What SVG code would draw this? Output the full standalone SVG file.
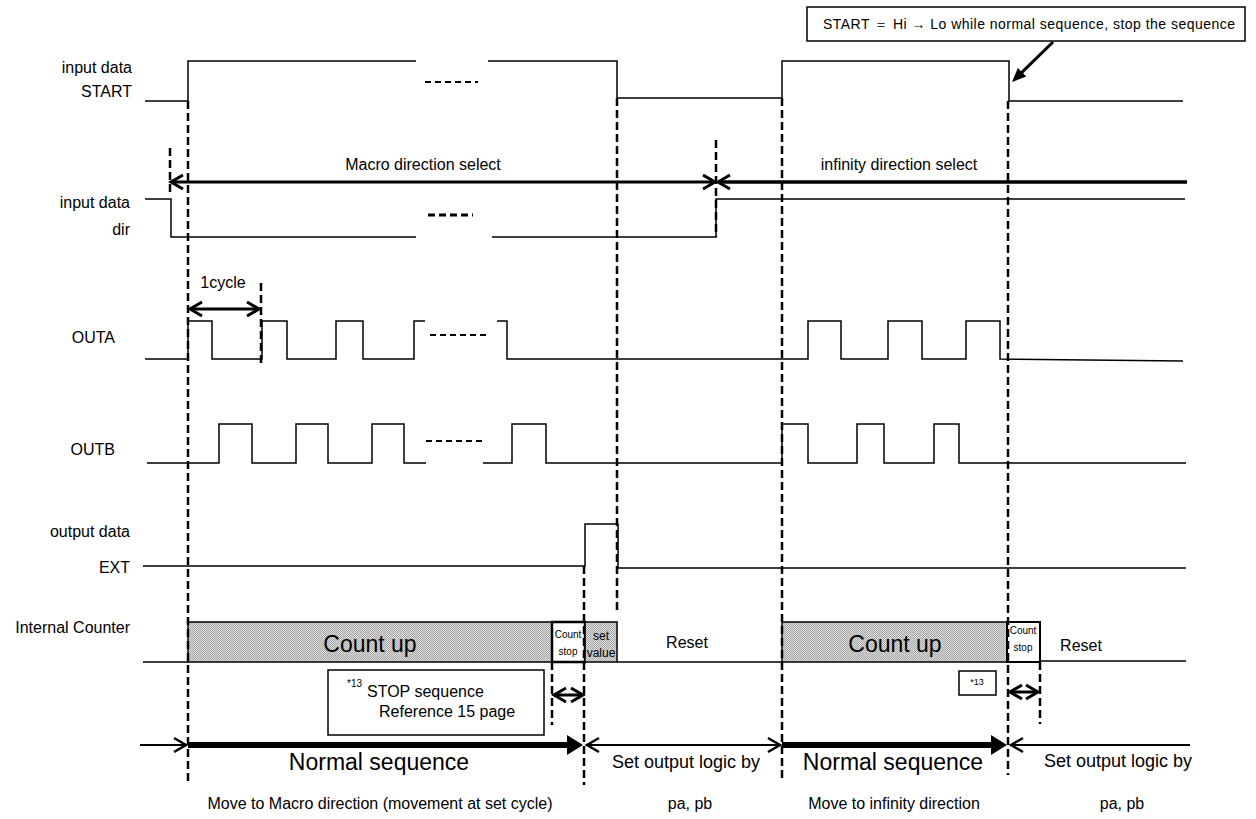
<svg xmlns="http://www.w3.org/2000/svg" width="1256" height="819" viewBox="0 0 1256 819">
<style>
text{font-family:"Liberation Sans",Arial,sans-serif;fill:#000}
.lbl{font-size:16px;text-anchor:end}
.c{text-anchor:middle}
.sig{fill:none;stroke:#000;stroke-width:1.5}
.dots{fill:none;stroke:#000;stroke-width:2;stroke-dasharray:6 4}
.dash{fill:none;stroke:#000;stroke-width:2.5;stroke-dasharray:8 4}
.arr{fill:none;stroke:#000;stroke-width:3}
.thin{fill:none;stroke:#000;stroke-width:2}
.thick{fill:none;stroke:#000;stroke-width:6}
.box{stroke:#000;stroke-width:1.5}
</style>
<defs>
<pattern id="stip" width="2" height="2" patternUnits="userSpaceOnUse">
<rect width="2" height="2" fill="#dcdcdc"/>
<rect width="1" height="1" fill="#a8a8a8"/>
<rect x="1" y="1" width="1" height="1" fill="#a8a8a8"/>
</pattern>
<marker id="open" markerUnits="userSpaceOnUse" markerWidth="30" markerHeight="30" refX="0" refY="0" orient="auto-start-reverse" overflow="visible">
<path d="M-12,-7 L0,0 L-12,7" fill="none" stroke="#000" stroke-width="3"/>
</marker>
<marker id="openS" markerUnits="userSpaceOnUse" markerWidth="30" markerHeight="30" refX="0" refY="0" orient="auto-start-reverse" overflow="visible">
<path d="M-12,-7 L0,0 L-12,7" fill="none" stroke="#000" stroke-width="2.5"/>
</marker>
<marker id="fill" markerUnits="userSpaceOnUse" markerWidth="30" markerHeight="30" refX="0" refY="0" orient="auto" overflow="visible">
<path d="M-3,-10 L13,0 L-3,10 Z" fill="#000"/>
</marker>
<marker id="fillS" markerUnits="userSpaceOnUse" markerWidth="30" markerHeight="30" refX="0" refY="0" orient="auto" overflow="visible">
<path d="M-2,-6 L12,0 L-2,6 Z" fill="#000"/>
</marker>
</defs>
<rect width="1256" height="819" fill="#fff"/>

<g id="labels">
<text class="lbl" x="132" y="73">input data</text>
<text class="lbl" x="132" y="97">START</text>
<text class="lbl" x="130" y="208">input data</text>
<text class="lbl" x="130" y="235">dir</text>
<text class="lbl" x="115" y="343">OUTA</text>
<text class="lbl" x="115" y="455">OUTB</text>
<text class="lbl" x="130" y="537">output data</text>
<text class="lbl" x="130" y="573">EXT</text>
<text class="lbl" x="130" y="633">Internal Counter</text>
</g>

<g id="sig-start">
<polyline class="sig" points="145,101 188,101 188,61 416,61"/>
<line class="dots" x1="425" y1="82" x2="478" y2="82"/>
<polyline class="sig" points="488,61 617,61 617,98 782,98 782,61 1009,61 1009,101 1183,101"/>
</g>

<g id="sig-dir">
<polyline class="sig" points="145,199 171,199 171,237 416,237"/>
<line class="dots" x1="428" y1="215" x2="473" y2="215" style="stroke-width:3;stroke-dasharray:7 4"/>
<polyline class="sig" points="492,237 716,237 716,199 1185,199"/>
</g>

<g id="sig-outa">
<polyline class="sig" points="145,359 188,359 188,321 212,321 212,359 262,359 262,321 287,321 287,359 336,359 336,321 363,321 363,359 414,359 414,321 425,321"/>
<line class="dots" x1="430" y1="335" x2="486" y2="335"/>
<polyline class="sig" points="497,321 507,321 507,359 808,359 808,321 841,321 841,359 888,359 888,321 922,321 922,359 966,359 966,321 1000,321 1000,359 1183,361"/>
</g>

<g id="sig-outb">
<polyline class="sig" points="147,463 219,463 219,424 252,424 252,463 296,463 296,424 328,424 328,463 372,463 372,424 404,424 404,463 426,463"/>
<line class="dots" x1="426" y1="441" x2="484" y2="441"/>
<polyline class="sig" points="483,463 512,463 512,424 546,424 546,463 782,463 782,424 808,424 808,463 857,463 857,424 884,424 884,463 934,463 934,424 959,424 959,463 1186,463"/>
</g>

<g id="sig-ext">
<polyline class="sig" points="143,566 585,566 585,524 618,524 618,568 1186,568"/>
</g>

<g id="counter">
<line class="sig" x1="143" y1="662" x2="188" y2="662"/>
<rect class="box" x="188" y="622" width="364" height="40" fill="url(#stip)"/>
<text class="c" x="370" y="652" style="font-size:23px">Count up</text>
<rect x="552" y="622" width="33" height="40" fill="#fff" stroke="#000" stroke-width="2.5"/>
<text class="c" x="568" y="638" style="font-size:10px">Count</text>
<text class="c" x="568" y="655" style="font-size:10px">stop</text>
<rect class="box" x="585" y="622" width="32" height="40" fill="url(#stip)"/>
<text class="c" x="601" y="640" style="font-size:12px">set</text>
<text class="c" x="601" y="657" style="font-size:12px">value</text>
<text class="c" x="687" y="648" style="font-size:16px">Reset</text>
<line class="sig" x1="617" y1="662" x2="782" y2="662"/>
<rect class="box" x="782" y="622" width="225" height="40" fill="url(#stip)"/>
<text class="c" x="895" y="652" style="font-size:23px">Count up</text>
<rect x="1007" y="622" width="33" height="40" fill="#fff" stroke="#000" stroke-width="2"/>
<text class="c" x="1023" y="634" style="font-size:10px">Count</text>
<text class="c" x="1023" y="651" style="font-size:10px">stop</text>
<line class="sig" x1="1040" y1="661" x2="1186" y2="661"/>
<text class="c" x="1081" y="651" style="font-size:16px">Reset</text>
</g>

<g id="note-stop">
<rect class="box" x="328" y="670" width="216" height="65" fill="#fff"/>
<text x="347" y="687" style="font-size:10px">*13</text>
<text x="367" y="697" style="font-size:16px">STOP sequence</text>
<text x="379" y="717" style="font-size:16px">Reference 15 page</text>
</g>

<g id="note-13">
<rect class="box" x="959" y="671" width="37" height="24" fill="#fff"/>
<text class="c" x="977" y="685" style="font-size:9px">*13</text>
</g>

<g id="callout">
<rect class="box" x="807" y="7" width="438" height="34" fill="#fff"/>
<text x="823" y="29" style="font-size:14px" textLength="412" lengthAdjust="spacing">START ＝ Hi → Lo while normal sequence, stop the sequence</text>
</g>

<g id="texts">
<text class="c" x="423" y="170" style="font-size:16px">Macro direction select</text>
<text class="c" x="899" y="170" style="font-size:16px">infinity direction select</text>
<text class="c" x="223" y="288" style="font-size:16px">1cycle</text>
<text class="c" x="379" y="770" style="font-size:23px">Normal sequence</text>
<text class="c" x="893" y="770" style="font-size:23px">Normal sequence</text>
<text class="c" x="686" y="768" style="font-size:18px">Set output logic by</text>
<text class="c" x="1118" y="767" style="font-size:18px">Set output logic by</text>
<text class="c" x="380" y="809" style="font-size:16px">Move to Macro direction (movement at set cycle)</text>
<text class="c" x="690" y="809" style="font-size:16px">pa, pb</text>
<text class="c" x="894" y="809" style="font-size:16px">Move to infinity direction</text>
<text class="c" x="1122" y="809" style="font-size:16px">pa, pb</text>
</g>

<g id="connectors">
<line class="dash" x1="188" y1="101" x2="188" y2="783"/>
<line class="dash" x1="170" y1="148" x2="170" y2="192"/>
<line class="dash" x1="716" y1="140" x2="716" y2="237"/>
<line class="dash" x1="261" y1="283" x2="261" y2="367"/>
<line class="dash" x1="617" y1="98" x2="617" y2="612"/>
<line class="dash" x1="584" y1="566" x2="584" y2="785"/>
<line class="dash" x1="782" y1="98" x2="782" y2="781"/>
<line class="dash" x1="1008" y1="101" x2="1008" y2="775"/>
<line class="dash" x1="552" y1="662" x2="552" y2="725"/>
<line class="dash" x1="1040" y1="662" x2="1040" y2="724"/>

<line class="arr" x1="171" y1="182" x2="715" y2="182" marker-start="url(#open)" marker-end="url(#open)"/>
<line class="arr" x1="1187" y1="182" x2="718" y2="182" style="stroke-width:3.5" marker-end="url(#open)"/>
<line class="arr" x1="190" y1="309" x2="259" y2="309" marker-start="url(#open)" marker-end="url(#open)"/>
<line class="arr" x1="554" y1="695" x2="583" y2="695" marker-start="url(#open)" marker-end="url(#open)"/>
<line class="arr" x1="1010" y1="692" x2="1038" y2="692" marker-start="url(#open)" marker-end="url(#open)"/>

<line class="thin" x1="140" y1="745" x2="186" y2="745" marker-end="url(#openS)"/>
<line class="thick" x1="188" y1="745" x2="570" y2="745" marker-end="url(#fill)"/>
<line class="thin" x1="587" y1="745" x2="780" y2="745" marker-start="url(#openS)" marker-end="url(#openS)"/>
<line class="thick" x1="782" y1="745" x2="994" y2="745" marker-end="url(#fill)"/>
<line class="thin" x1="1190" y1="745" x2="1011" y2="745" marker-end="url(#openS)"/>

<line class="arr" x1="1053" y1="42" x2="1020.6" y2="73.6" marker-end="url(#fillS)"/>
</g>
</svg>
